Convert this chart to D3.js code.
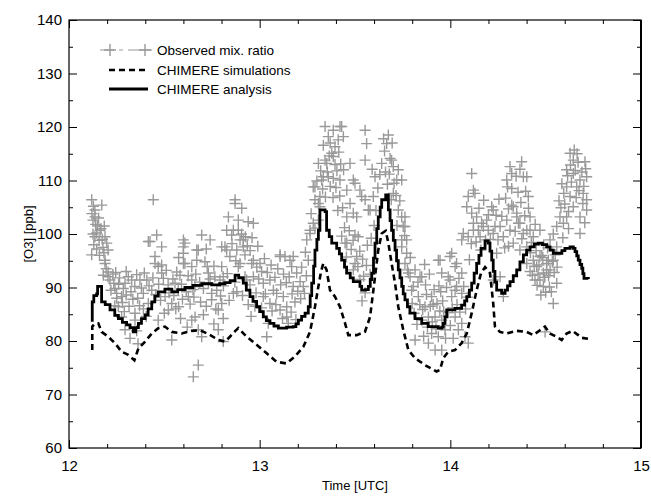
<!DOCTYPE html>
<html>
<head>
<meta charset="utf-8">
<script src="https://cdnjs.cloudflare.com/ajax/libs/d3/7.8.5/d3.min.js"></script>
<style>
  body { margin: 0; background: #fff; }
  text { font-family: "Liberation Sans", Arial, Helvetica, sans-serif; }
</style>
</head>
<body>
<div id="main"></div>
<script>
// tick values
var xTicks = [12, 13, 14, 15];
var xMinor = [12.2, 12.4, 12.6, 12.8, 13.2, 13.4, 13.6, 13.8, 14.2, 14.4, 14.6, 14.8];
var yTicks = [60, 70, 80, 90, 100, 110, 120, 130, 140];
var yMinor = [65, 75, 85, 95, 105, 115, 125, 135];

var seriesNames = ["Observed mix. ratio", "CHIMERE simulations", "CHIMERE analysis"];

// CHIMERE analysis [time, ppb]
var analysis = [[12.122,83.6],[12.122,87.3],[12.130,88.5],[12.145,88.8],[12.150,90.2],[12.165,90.2],[12.171,87.3],[12.190,86.8],
  [12.215,85.8],[12.240,84.8],[12.259,84.2],[12.280,83.5],[12.302,83.0],[12.320,82.5],[12.337,81.7],[12.350,82.5],[12.364,83.3],
  [12.380,84.2],[12.399,84.9],[12.415,86.0],[12.434,87.3],[12.450,88.4],[12.468,89.2],[12.503,89.7],[12.539,89.2],[12.570,89.6],
  [12.608,90.0],[12.650,90.4],[12.696,90.7],[12.748,90.5],[12.790,90.7],[12.818,90.9],[12.845,91.3],[12.871,92.3],[12.890,91.8],
  [12.914,90.8],[12.930,89.5],[12.949,88.3],[12.965,87.4],[12.984,86.4],[13.000,85.5],[13.019,84.5],[13.035,83.8],[13.054,83.3],
  [13.075,82.8],[13.098,82.4],[13.141,82.6],[13.176,82.7],[13.190,83.2],[13.203,83.9],[13.220,84.6],[13.238,85.2],[13.255,86.4],
  [13.265,88.5],[13.273,90.8],[13.283,94.0],[13.290,97.0],[13.300,99.0],[13.308,100.7],[13.316,104.5],[13.343,104.2],[13.351,100.7],
  [13.365,99.5],[13.378,98.3],[13.404,97.3],[13.418,96.3],[13.430,95.1],[13.445,93.8],[13.456,92.7],[13.475,91.8],[13.491,91.1],
  [13.526,90.2],[13.535,89.5],[13.555,89.6],[13.570,90.2],[13.580,91.5],[13.588,92.7],[13.597,95.5],[13.605,98.3],[13.614,101.0],
  [13.622,103.2],[13.632,105.0],[13.640,106.4],[13.661,107.3],[13.675,104.5],[13.684,102.5],[13.692,100.7],[13.701,98.8],[13.710,97.0],
  [13.718,95.0],[13.727,93.3],[13.736,91.8],[13.745,90.2],[13.753,88.8],[13.762,87.7],[13.775,86.4],[13.788,85.2],[13.815,84.2],
  [13.850,83.3],[13.884,82.7],[13.937,82.4],[13.955,82.6],[13.963,83.3],[13.972,84.5],[13.981,85.8],[14.024,86.1],[14.059,86.7],
  [14.075,87.5],[14.086,88.3],[14.100,89.5],[14.112,90.8],[14.125,92.7],[14.138,94.5],[14.150,96.0],[14.161,97.3],[14.182,98.7],
  [14.199,98.3],[14.208,96.8],[14.217,95.1],[14.225,93.0],[14.234,91.0],[14.243,89.5],[14.269,88.9],[14.287,89.5],[14.300,90.3],
  [14.313,91.1],[14.330,92.2],[14.348,93.3],[14.365,94.8],[14.383,96.1],[14.400,97.0],[14.418,97.6],[14.440,98.1],[14.461,98.3],
  [14.483,98.0],[14.505,97.6],[14.523,97.0],[14.540,96.4],[14.566,96.4],[14.585,96.9],[14.601,97.3],[14.628,97.6],[14.645,97.3],
  [14.654,96.7],[14.663,95.9],[14.671,95.1],[14.680,94.3],[14.689,93.6],[14.695,92.6],[14.701,91.7],[14.724,91.6]];

// CHIMERE simulations [time, ppb]
var simulation = [[12.122,78.3],[12.122,82.7],[12.135,83.2],[12.154,83.3],[12.171,81.7],[12.206,80.8],[12.241,79.6],[12.276,78.0],
  [12.311,77.4],[12.343,76.4],[12.364,78.6],[12.399,79.9],[12.434,81.4],[12.468,82.4],[12.503,82.7],[12.539,81.7],[12.591,81.4],
  [12.643,81.9],[12.687,82.0],[12.731,81.3],[12.783,80.2],[12.818,79.9],[12.844,80.8],[12.870,81.8],[12.888,82.4],[12.932,80.8],
  [12.984,79.3],[13.037,77.7],[13.089,76.1],[13.141,75.8],[13.185,77.1],[13.229,78.9],[13.264,81.7],[13.290,86.4],[13.308,90.2],
  [13.322,93.0],[13.334,94.5],[13.351,93.3],[13.369,89.5],[13.395,88.3],[13.421,86.4],[13.448,83.3],[13.465,81.1],[13.509,81.1],
  [13.552,81.7],[13.579,84.5],[13.605,92.0],[13.622,97.0],[13.640,100.1],[13.661,100.6],[13.675,98.3],[13.692,94.5],[13.710,90.8],
  [13.727,86.4],[13.753,82.1],[13.780,78.3],[13.815,76.8],[13.867,75.5],[13.928,74.3],[13.946,74.6],[13.963,76.8],[13.989,78.0],
  [14.024,78.3],[14.059,79.6],[14.086,81.4],[14.112,85.2],[14.138,89.5],[14.161,92.7],[14.182,93.8],[14.208,92.7],[14.225,87.0],
  [14.234,82.7],[14.260,81.7],[14.295,81.4],[14.348,81.9],[14.400,81.7],[14.435,81.1],[14.470,82.0],[14.496,82.7],[14.522,81.4],
  [14.557,80.8],[14.584,80.2],[14.610,81.4],[14.641,81.9],[14.671,81.1],[14.689,80.6],[14.724,80.4]];

// observed mixing ratio [time, ppb]
var observed = [[12.119,106.4],[12.172,105.4],[12.136,104.5],[12.136,103.2],[12.126,102.6],[12.163,100.7],[12.136,99.5],[12.189,99.5],
  [12.198,98.3],[12.119,96.1],[12.189,94.5],[12.150,101.5],[12.145,100.2],[12.178,97.5],[12.183,96.5],[12.155,103.0],[12.168,101.0],
  [12.140,101.8],[12.126,100.0],[12.205,97.0],[12.189,95.1],[12.130,98.0],[12.158,98.8],[12.215,91.4],[12.241,89.8],[12.250,88.9],
  [12.250,88.0],[12.276,88.3],[12.259,86.4],[12.276,84.5],[12.294,82.1],[12.311,92.0],[12.329,91.4],[12.294,90.8],[12.346,85.2],
  [12.346,83.9],[12.372,91.4],[12.390,88.9],[12.408,91.4],[12.416,87.0],[12.434,89.5],[12.451,94.5],[12.468,93.9],[12.486,92.7],
  [12.460,99.8],[12.416,98.6],[12.486,97.6],[12.504,88.3],[12.521,85.8],[12.539,87.0],[12.468,83.9],[12.539,80.2],[12.556,90.8],
  [12.573,89.5],[12.582,92.3],[12.608,98.3],[12.608,94.5],[12.600,96.4],[12.644,93.9],[12.644,91.4],[12.661,90.2],[12.626,88.3],
  [12.678,97.0],[12.696,99.8],[12.661,84.5],[12.678,82.1],[12.696,80.8],[12.644,83.9],[12.678,75.5],[12.652,73.3],[12.731,92.7],
  [12.748,88.9],[12.748,87.7],[12.775,89.5],[12.783,85.8],[12.783,82.1],[12.801,87.0],[12.792,91.4],[12.731,90.8],[12.713,94.8],
  [12.442,106.4],[12.425,98.6],[12.451,95.8],[12.486,94.2],[12.600,98.9],[12.600,97.6],[12.670,97.0],[12.600,94.5],[12.670,95.1],
  [12.320,80.5],[12.362,79.5],[12.260,90.6],[12.280,87.2],[12.230,92.5],[12.360,88.0],[12.390,86.0],[12.520,90.5],[12.560,86.0],
  [12.871,106.4],[12.906,104.8],[12.836,103.2],[12.888,102.6],[12.940,102.3],[12.967,102.0],[12.827,100.7],[12.862,100.7],
  [12.888,100.7],[12.853,99.8],[12.897,98.9],[12.914,97.6],[12.801,97.6],[12.827,97.0],[12.844,95.8],[12.923,96.1],[12.958,94.5],
  [13.002,94.5],[12.801,93.9],[12.888,93.9],[13.107,96.1],[13.133,95.8],[13.176,95.8],[13.168,93.9],[13.247,98.9],[13.264,100.1],
  [13.290,101.1],[13.308,102.6],[13.316,105.1],[13.290,106.4],[13.281,108.8],[13.325,110.1],[13.360,110.7],[13.386,110.4],
  [13.308,113.2],[13.343,113.8],[13.378,115.1],[13.395,116.3],[13.334,116.6],[13.360,118.2],[13.343,120.1],[13.386,119.4],
  [13.412,117.6],[13.430,120.1],[12.871,105.7],[12.914,98.9],[12.967,95.1],[12.818,97.6],[12.809,92.0],[12.862,88.9],[12.809,84.2],
  [12.809,79.9],[12.932,91.4],[12.967,92.0],[13.019,90.8],[13.054,91.4],[13.072,89.5],[13.019,88.3],[13.054,87.0],[13.089,88.9],
  [13.124,88.3],[13.142,86.4],[13.107,85.8],[13.045,83.3],[13.037,80.8],[13.142,84.5],[13.150,83.3],[13.107,95.8],[13.159,95.1],
  [13.194,92.7],[13.176,90.2],[13.212,91.1],[13.229,90.2],[13.255,95.1],[13.264,100.7],[13.281,102.0],[13.290,108.8],[13.316,107.0],
  [13.308,105.7],[13.334,110.7],[13.352,113.2],[13.386,114.5],[13.421,110.1],[13.457,108.2],[13.474,105.7],[13.491,103.9],
  [13.457,98.3],[13.509,95.8],[13.491,93.3],[12.949,90.5],[12.981,89.0],[12.923,92.0],[12.897,94.5],
  [13.421,120.1],[13.439,118.2],[13.553,119.4],[13.561,116.9],[13.675,118.5],[13.666,116.9],[13.684,114.1],[13.701,112.6],
  [13.727,112.0],[13.745,110.1],[13.474,113.2],[13.491,110.1],[13.526,108.2],[13.553,106.4],[13.596,107.0],[13.579,104.5],
  [13.509,103.2],[13.457,103.2],[13.500,99.8],[13.448,98.3],[13.719,110.1],[13.701,107.6],[13.727,104.5],[13.762,103.2],
  [13.753,101.4],[13.771,98.9],[13.745,97.6],[13.771,96.4],[13.762,94.5],[13.789,92.0],[13.841,92.0],[13.806,90.2],[13.946,95.1],
  [13.955,92.7],[13.998,95.8],[14.033,94.5],[13.998,91.4],[14.033,90.2],[14.112,111.3],[14.094,107.0],[14.121,108.2],[14.086,105.1],
  [14.112,103.9],[14.138,103.2],[14.121,102.0],[14.068,100.1],[14.121,100.7],[14.173,101.4],[14.191,102.6],[14.156,99.5],
  [14.225,104.5],[14.225,100.1],[14.296,102.6],[14.261,101.4],[14.278,99.5],[14.313,112.6],[14.322,111.3],[14.296,110.1],
  [14.322,108.5],[14.374,113.5],[14.383,110.7],[14.401,110.7],[14.409,107.0],[14.330,105.1],[14.348,103.2],[14.365,102.0],
  [14.418,103.2],[14.401,100.7],[14.330,98.3],[14.365,97.0],[14.435,99.5],[14.470,100.7],[14.401,97.6],[14.470,95.8],[14.453,93.9],
  [14.488,92.7],[14.470,91.4],[14.505,94.5],[14.540,95.1],[14.558,90.8],[14.523,93.3],[14.488,90.2],[14.628,115.1],[14.645,113.8],
  [14.706,113.5],[14.610,112.0],[14.645,111.3],[14.680,110.1],[14.715,110.7],[14.610,108.8],[14.663,108.8],[14.697,107.6],
  [14.715,106.4],[14.628,107.0],[14.645,105.1],[14.715,104.5],[14.680,103.2],[14.575,103.2],[14.593,102.0],[14.558,101.4],
  [14.680,100.1],[14.523,98.9],[14.558,97.6],[14.650,115.7],[14.435,95.1],[14.444,91.4],[14.505,93.3],[14.514,95.1],[14.540,87.0],
  [14.401,94.5],[14.418,93.0],[14.497,81.7],[14.261,92.0],[14.243,96.4],[14.234,101.4],[14.313,100.7],[14.322,105.4],[14.348,103.9],
  [14.357,102.0],[14.383,100.1],[14.418,100.7],[14.610,103.2],[14.278,88.3],[14.225,91.4],[14.460,92.5],[14.480,96.0],[14.530,89.2],
  [13.780,92.7],[13.815,93.3],[13.850,92.0],[13.797,89.5],[13.832,88.3],[13.867,86.4],[13.902,88.3],[13.885,84.5],[13.920,84.5],
  [13.850,83.9],[13.955,83.9],[13.902,81.4],[13.937,80.8],[13.815,80.2],[13.885,79.6],[13.920,78.3],[13.955,78.3],[13.972,82.1],
  [13.937,95.1],[14.007,96.4],[14.025,93.9],[13.989,92.0],[14.060,92.7],[14.025,89.5],[14.060,88.9],[14.007,88.3],[14.025,84.5],
  [14.060,83.3],[14.077,80.8],[14.094,79.6],[14.042,82.1],[14.129,107.6],[14.094,99.5],[14.147,100.7],[14.164,102.0],[14.199,100.7],
  [14.217,105.1],[14.060,98.9],[13.553,113.8],[13.605,110.7],[13.692,113.8],[13.500,109.5],[13.535,107.0],[13.570,104.5],
  [13.517,99.5],[13.500,94.5],[13.745,103.2],[13.762,101.4],[13.745,98.9],[13.526,91.5],[13.553,89.0],[13.579,92.5],[13.537,87.5],
  [13.870,90.5],[13.910,86.8],[13.960,87.5],[13.980,90.0],
  [12.120,103.8],[12.128,105.2],[12.145,97.2],[12.160,96.0],[12.175,99.0],[12.185,101.5],[12.195,93.5],[12.205,92.9],[12.180,92.3],
  [12.205,92.0],[12.220,89.5],[12.235,90.8],[12.245,92.8],[12.265,91.8],[12.285,89.8],[12.300,88.6],[12.315,86.5],[12.325,89.2],
  [12.335,87.8],[12.345,90.2],[12.355,92.4],[12.370,86.6],[12.380,89.9],[12.395,92.7],[12.405,84.6],[12.420,90.3],[12.440,91.8],
  [12.455,88.7],[12.470,90.6],[12.480,87.6],[12.495,91.7],[12.500,85.2],[12.510,93.2],[12.240,86.6],[12.290,85.5],[12.355,81.9],
  [12.300,93.0],[12.525,89.0],[12.545,91.6],[12.550,88.5],[12.565,92.9],[12.575,86.4],[12.590,90.6],[12.595,87.8],[12.615,89.2],
  [12.625,92.2],[12.635,86.9],[12.650,89.6],[12.655,88.2],[12.665,92.5],[12.685,91.0],[12.690,87.3],[12.705,89.8],[12.720,86.5],
  [12.725,93.9],[12.740,91.6],[12.760,94.0],[12.765,92.0],[12.770,86.0],[12.795,88.4],[12.810,90.3],[12.830,92.6],[12.840,87.6],
  [12.585,84.2],[12.620,82.6],[12.705,84.9],[12.760,83.2],[12.575,95.6],[12.720,97.2],[12.740,98.9],
  [12.855,98.2],[12.880,97.0],[12.875,95.0],[12.905,100.0],[12.925,99.5],[12.935,97.8],[12.950,96.9],[12.960,99.3],[12.990,97.7],
  [12.985,93.8],[12.995,91.6],[12.870,91.0],[12.880,89.2],[12.910,88.5],[12.940,86.8],[12.975,86.5],[12.955,84.6],
  [13.010,93.0],[13.025,95.4],[13.040,92.8],[13.060,94.2],[13.080,91.9],[13.095,93.5],[13.110,90.5],[13.125,92.5],[13.140,90.9],
  [13.155,92.0],[13.170,88.8],[13.185,87.3],[13.200,89.3],[13.215,87.9],[13.235,88.9],[13.245,92.2],[13.010,86.2],[13.030,88.8],
  [13.065,85.6],[13.085,86.8],[13.120,84.2],[13.165,85.4],[13.190,84.0],[13.220,93.8],[13.240,96.6],
  [13.270,103.8],[13.300,109.9],[13.320,111.8],[13.330,108.4],[13.345,106.9],[13.355,111.6],[13.365,114.6],[13.370,117.0],
  [13.395,113.0],[13.405,111.8],[13.415,115.3],[13.425,113.1],[13.440,112.0],[13.370,108.9],[13.385,106.8],[13.400,108.7],
  [13.410,104.4],[13.420,107.1],[13.435,104.9],[13.445,101.2],[13.430,99.6],[13.470,100.6],[13.455,95.7],[13.480,97.1],
  [13.490,98.8],[13.515,93.9],[13.525,96.8],[13.540,95.3],[13.545,92.1],[13.560,94.1],[13.565,97.9],[13.585,99.2],[13.600,101.6],
  [13.610,104.4],[13.620,108.6],[13.590,112.1],[13.630,111.1],[13.640,113.2],[13.655,115.5],[13.660,111.6],[13.670,109.3],
  [13.680,111.2],[13.690,106.4],[13.705,109.5],[13.715,107.2],[13.735,106.2],[13.650,117.8],[13.695,117.0],[13.720,101.6],
  [13.760,99.7],[13.775,93.3],[13.790,95.6],
  [13.800,87.0],[13.810,85.2],[13.825,83.1],[13.840,86.8],[13.855,85.9],[13.860,80.9],[13.875,88.7],[13.880,82.6],[13.895,86.5],
  [13.905,83.6],[13.915,89.6],[13.925,82.3],[13.930,87.0],[13.945,85.6],[13.950,89.2],[13.965,85.5],[13.975,80.5],[13.990,85.3],
  [14.000,82.9],[14.010,86.2],[14.015,80.5],[14.035,86.8],[14.045,91.7],[14.050,85.4],[14.070,90.2],[14.080,86.0],[14.090,88.2],
  [13.830,91.0],[13.890,92.5],[13.940,90.3],[13.865,94.3],
  [14.100,95.2],[14.110,98.2],[14.135,98.5],[14.150,104.8],[14.160,97.0],[14.175,106.3],[14.185,98.9],[14.200,103.6],[14.210,99.0],
  [14.240,103.5],[14.250,98.9],[14.255,106.5],[14.270,103.3],[14.285,97.4],[14.290,106.7],[14.300,108.8],[14.305,104.7],
  [14.340,100.5],[14.355,107.8],[14.370,105.9],[14.375,99.1],[14.390,103.4],[14.410,104.8],[14.395,108.0],[14.305,97.7],
  [14.345,110.8],[14.365,112.1],
  [14.420,96.5],[14.430,92.3],[14.440,94.0],[14.450,96.9],[14.455,90.4],[14.465,94.2],[14.475,88.6],[14.485,95.6],[14.495,91.9],
  [14.500,89.1],[14.510,97.4],[14.515,92.2],[14.520,90.1],[14.535,94.9],[14.545,92.8],[14.550,96.1],[14.425,98.4],[14.445,101.8],
  [14.490,98.0],[14.540,100.0],[14.560,93.8],
  [14.570,106.2],[14.580,104.9],[14.585,109.4],[14.595,107.6],[14.600,105.6],[14.615,110.9],[14.620,104.2],[14.630,112.9],
  [14.635,109.7],[14.655,111.9],[14.660,106.8],[14.670,113.4],[14.675,108.1],[14.690,111.6],[14.695,105.7],[14.700,108.9],
  [14.710,112.2],[14.590,99.3],[14.620,101.0],[14.705,102.1],[14.665,115.0]];

var svg = d3.select("#main").append("svg")
  .attr("width", 651)
  .attr("height", 496);

var plotLeft = 69, plotRight = 641, plotTop = 20, plotBottom = 448;

var x = d3.scaleLinear().domain([12, 15]).range([plotLeft, plotRight]);
var y = d3.scaleLinear().domain([60, 140]).range([plotBottom, plotTop]);

// frame
svg.append("rect")
  .attr("x", plotLeft).attr("y", plotTop)
  .attr("width", plotRight - plotLeft).attr("height", plotBottom - plotTop)
  .attr("fill", "none").attr("stroke", "#000").attr("stroke-width", 1.2);
svg.append("line")
  .attr("x1", plotRight).attr("x2", plotRight).attr("y1", plotTop).attr("y2", plotBottom)
  .attr("stroke", "#000").attr("stroke-width", 2);

function styleAxis(g, labels) {
  g.select(".domain").remove();
  g.selectAll(".tick line").attr("stroke", "#000").attr("stroke-width", 1);
  if (labels) {
    g.selectAll(".tick text").attr("fill", "#000").style("font-size", "15px");
  } else {
    g.selectAll(".tick text").remove();
  }
}

// bottom / top axes, ticks inside
svg.append("g").attr("transform", "translate(0," + plotBottom + ")")
  .call(d3.axisBottom(x).tickValues(xTicks).tickSize(-8).tickPadding(12).tickFormat(d3.format("d")))
  .call(g => styleAxis(g, true));
svg.append("g").attr("transform", "translate(0," + plotBottom + ")")
  .call(d3.axisBottom(x).tickValues(xMinor).tickSize(-4))
  .call(g => styleAxis(g, false));
svg.append("g").attr("transform", "translate(0," + plotTop + ")")
  .call(d3.axisTop(x).tickValues(xTicks).tickSize(-8))
  .call(g => styleAxis(g, false));
svg.append("g").attr("transform", "translate(0," + plotTop + ")")
  .call(d3.axisTop(x).tickValues(xMinor).tickSize(-4))
  .call(g => styleAxis(g, false));

// left / right axes
svg.append("g").attr("transform", "translate(" + plotLeft + ",0)")
  .call(d3.axisLeft(y).tickValues(yTicks).tickSize(-8).tickPadding(7))
  .call(g => styleAxis(g, true));
svg.append("g").attr("transform", "translate(" + plotLeft + ",0)")
  .call(d3.axisLeft(y).tickValues(yMinor).tickSize(-4))
  .call(g => styleAxis(g, false));
svg.append("g").attr("transform", "translate(" + plotRight + ",0)")
  .call(d3.axisRight(y).tickValues(yTicks).tickSize(-8))
  .call(g => styleAxis(g, false));
svg.append("g").attr("transform", "translate(" + plotRight + ",0)")
  .call(d3.axisRight(y).tickValues(yMinor).tickSize(-4))
  .call(g => styleAxis(g, false));

// axis titles
svg.append("text")
  .attr("x", (plotLeft + plotRight) / 2).attr("y", 490)
  .attr("text-anchor", "middle").style("font-size", "13px")
  .text("Time [UTC]");
svg.append("text")
  .attr("transform", "translate(33," + (plotTop + plotBottom) / 2 + ") rotate(-90)")
  .attr("text-anchor", "middle").style("font-size", "13px")
  .text("[O3] [ppb]");

// observed crosses
function crossPath(cx, cy, r) {
  return "M" + (cx - r) + "," + cy + "H" + (cx + r) + "M" + cx + "," + (cy - r) + "V" + (cy + r);
}
svg.append("g").selectAll("path")
  .data(observed)
  .enter().append("path")
  .attr("d", d => crossPath(x(d[0]), y(d[1]), 5.5))
  .attr("stroke", "#999").attr("stroke-width", 1.4).attr("fill", "none");

var line = d3.line().x(d => x(d[0])).y(d => y(d[1]));
var stepLine = d3.line().curve(d3.curveStepAfter).x(d => x(d[0])).y(d => y(d[1]));

svg.append("path").datum(simulation)
  .attr("d", line).attr("fill", "none")
  .attr("stroke", "#000").attr("stroke-width", 2.6)
  .attr("stroke-dasharray", "6,4");

svg.append("path").datum(analysis)
  .attr("d", stepLine).attr("fill", "none")
  .attr("stroke", "#000").attr("stroke-width", 2.8)
  .attr("stroke-linejoin", "miter");

// legend
var lg = svg.append("g");
var rows = [50, 70, 89];
lg.append("line").attr("x1", 100).attr("x2", 152).attr("y1", rows[0]).attr("y2", rows[0])
  .attr("stroke", "#999").attr("stroke-width", 1).attr("stroke-dasharray", "14,5,4,5,30");
lg.append("path").attr("d", crossPath(110, rows[0], 6)).attr("stroke", "#999").attr("stroke-width", 1.4);
lg.append("path").attr("d", crossPath(145, rows[0], 6)).attr("stroke", "#999").attr("stroke-width", 1.4);
lg.append("line").attr("x1", 109).attr("x2", 148).attr("y1", rows[1]).attr("y2", rows[1])
  .attr("stroke", "#000").attr("stroke-width", 2.6).attr("stroke-dasharray", "6,4");
lg.append("line").attr("x1", 109).attr("x2", 148).attr("y1", rows[2]).attr("y2", rows[2])
  .attr("stroke", "#000").attr("stroke-width", 2.8);
lg.selectAll("text.lab").data(seriesNames).enter().append("text")
  .attr("x", 157).attr("y", (d, i) => rows[i] + 5)
  .style("font-size", "13.5px")
  .text(d => d);
</script>
</body>
</html>
